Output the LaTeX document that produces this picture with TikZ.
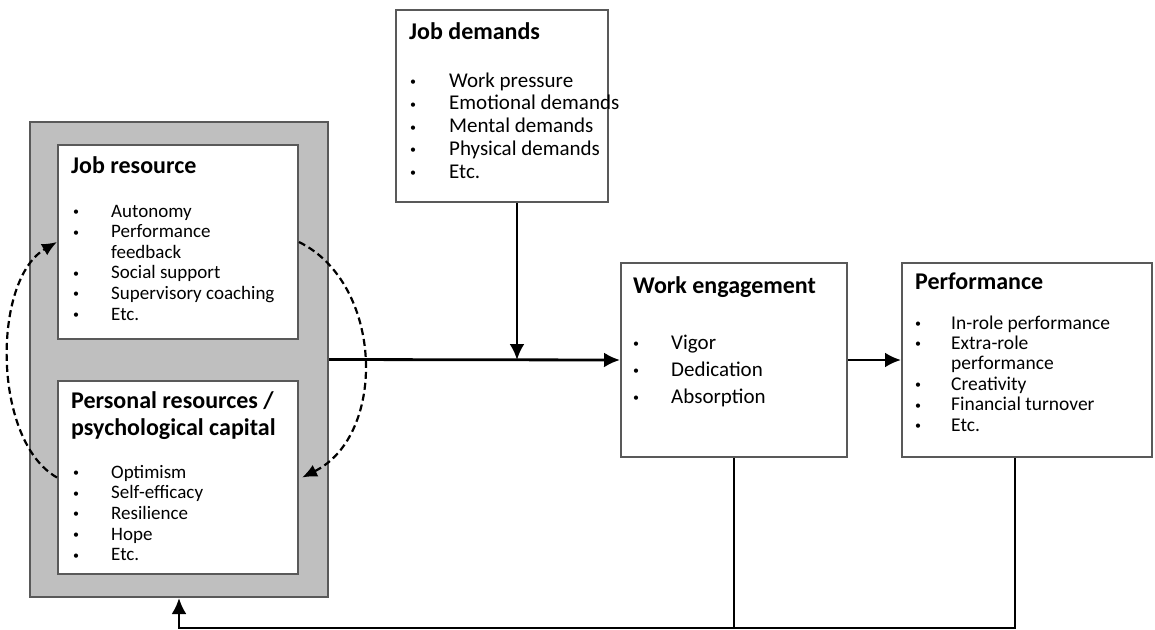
\documentclass[tikz,border=0pt]{standalone}
\usepackage{fontspec}
\setmainfont{Carlito}
\usetikzlibrary{arrows.meta, calc}

\tikzset{
  panel/.style={draw=black!65, line width=2pt, fill=white, inner sep=0pt},
  head/.style={anchor=base west, inner sep=0pt, font=\fontsize{24}{27}\selectfont\bfseries},
  list/.style={anchor=base west, inner sep=0pt},
  link/.style={line width=2.8pt, -{Latex[length=16pt,width=15pt]}},
  swap/.style={line width=2.2pt, dash pattern=on 7pt off 4pt, -{Latex[length=15pt,width=13pt]}},
}
\newcommand{\dotb}{\raisebox{1.5pt}{\fontsize{12}{12}\selectfont\textbullet}}
\newcommand{\itm}[2][40pt]{\makebox[#1][l]{\hspace*{2pt}\dotb}#2}
\newcommand{\lst}[3]{\parbox[t]{260pt}{\fontsize{#1}{#2}\selectfont #3}}

\begin{document}
\begin{tikzpicture}[x=1pt, y=-1pt]
  \useasboundingbox (0,0) rectangle (1155,629);

  % boxes
  \node[panel, fill=black!25, minimum width=298pt, minimum height=475pt] (res) at (179,359.5) {};
  \node[panel, minimum width=240pt, minimum height=194pt] (jr) at (178,242) {};
  \node[panel, minimum width=240pt, minimum height=193pt] (pr) at (178,477.5) {};
  \node[panel, minimum width=212pt, minimum height=192pt] (jd) at (502,106) {};
  \node[panel, minimum width=226pt, minimum height=194pt] (we) at (734,360) {};
  \node[panel, minimum width=250pt, minimum height=194pt] (perf) at (1027,360) {};

  % texts
  \node[head] (jrh) at (71,173) {Job resource};
  \node[list] (jrl) at (71,217) {\lst{19}{20.6}{\itm{Autonomy}\\\itm{Performance}\\\hspace*{40pt}feedback\\\itm{Social support}\\\itm{Supervisory coaching}\\\itm{Etc.}}};

  \node[head] (prh) at (71,408) {\parbox[t]{250pt}{Personal resources /\\psychological capital}};
  \node[list] (prl) at (71,478) {\lst{19}{20.7}{\itm{Optimism}\\\itm{Self-efficacy}\\\itm{Resilience}\\\itm{Hope}\\\itm{Etc.}}};

  \node[head] (jdh) at (409,39) {Job demands};
  \node[list] (jdl) at (408,87) {\lst{21}{22.8}{\itm[41pt]{Work pressure}\\\itm[41pt]{Emotional demands}\\\itm[41pt]{Mental demands}\\\itm[41pt]{Physical demands}\\\itm[41pt]{Etc.}}};

  \node[head] (weh) at (633,293) {Work engagement};
  \node[list] (wel) at (631,349) {\lst{21}{27}{\itm{Vigor}\\\itm{Dedication}\\\itm{Absorption}}};

  \node[head] (perfh) at (915,289) {Performance};
  \node[list] (perfl) at (913,329) {\lst{19.5}{20.4}{\itm[38pt]{In-role performance}\\\itm[38pt]{Extra-role}\\\hspace*{38pt}performance\\\itm[38pt]{Creativity}\\\itm[38pt]{Financial turnover}\\\itm[38pt]{Etc.}}};

  % connectors
  \coordinate (jn) at (517,360);
  \coordinate (fb) at ($(res.south)+(0,30)$);
  \draw[link] (res.east) -- (we.west);
  \draw[link] (jn |- jd.south) -- (jn);
  \draw[link] (we.east) -- (perf.west);
  \draw[line width=2.8pt] (we.south) -- (we.south |- fb);
  \draw[link] ($(perf.south)+(-12,0)$) |- (fb) -- (res.south);

  % dashed loop
  \draw[swap] (pr.west) .. controls +(-65,-37) and +(-65,38) .. (jr.west);
  \draw[swap] (jr.east) .. controls +(85,42) and +(85,-42) .. ($(pr.east)+(3,0)$);
\end{tikzpicture}
\end{document}
